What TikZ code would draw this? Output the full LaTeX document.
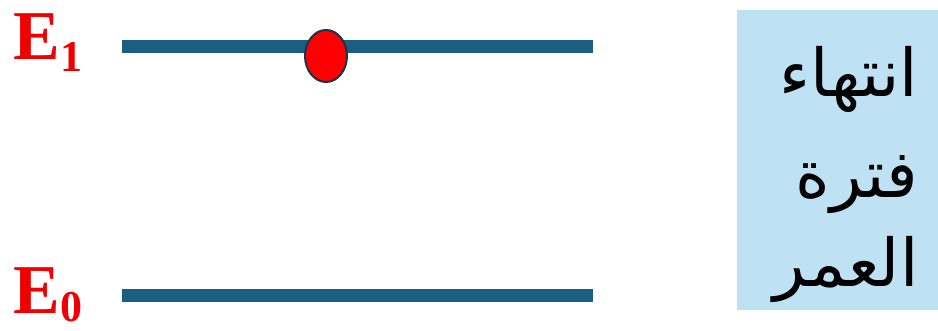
\documentclass[tikz,border=0pt]{standalone}
\usepackage{fontspec}
\setmainfont{Liberation Serif}
\newfontfamily\arabicfont[Script=Arabic]{DejaVu Sans}
\TeXXeTstate=1
\usetikzlibrary{shapes.geometric}
\definecolor{levelblue}{HTML}{1A5E80}
\definecolor{boxblue}{HTML}{BEE1F3}
\definecolor{dotedge}{HTML}{1C3448}
\definecolor{labelred}{HTML}{F00000}
\begin{document}
\begin{tikzpicture}[x=1pt,y=-1pt,
  level/.style={line width=13pt, draw=levelblue},
  bigE/.style={font=\bfseries\fontsize{70}{70}\selectfont, text=labelred, inner sep=0, anchor=base west},
  subE/.style={font=\bfseries\fontsize{44}{44}\selectfont, text=labelred, inner sep=0, anchor=base west},
  artext/.style={font=\arabicfont\fontsize{66}{66}\selectfont, inner sep=0, anchor=base}]
\useasboundingbox (0,0) rectangle (938,331);
% energy levels
\coordinate (e1a) at (122,46.5);
\coordinate (e1b) at (593,46.5);
\coordinate (e0a) at (122,296);
\coordinate (e0b) at (593,296);
\draw[level] (e1a) -- (e1b);
\draw[level] (e0a) -- (e0b);
% electron
\node[ellipse, draw=dotedge, line width=2pt, fill=red, minimum width=42pt, minimum height=52pt, inner sep=0] (dot) at (326,56) {};
% labels
\node[bigE] (E1) at (13,60) {E};
\node[subE] (s1) at (60,72) {1};
\node[bigE] (E0) at (13,314) {E};
\node[subE] (s0) at (60,322) {0};
% box
\node[fill=boxblue, minimum width=201pt, minimum height=300pt, anchor=north west, inner sep=0] (box) at (737,10) {};
\node[artext] (t1) at (849,97) {\beginR انتهاء\endR};
\node[artext] (t2) at (857,198) {\beginR فترة\endR};
\node[artext] (t3) at (846,287) {\beginR العمر\endR};
\end{tikzpicture}
\end{document}
